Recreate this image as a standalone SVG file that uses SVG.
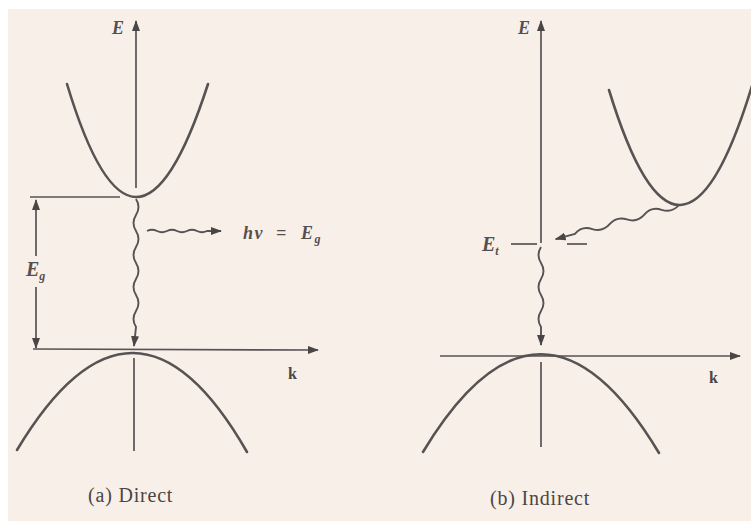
<svg xmlns="http://www.w3.org/2000/svg" width="751" height="521" viewBox="0 0 751 521">
<style>
.band{fill:none;stroke:#575353;stroke-width:2.6;stroke-linecap:round}
.ax{fill:none;stroke:#575353;stroke-width:1.7}
.wave{fill:none;stroke:#575353;stroke-width:1.9}
.lbl{font-family:"Liberation Serif",serif;font-style:italic;font-weight:bold;fill:#555050}
.cap{font-family:"Liberation Serif",serif;fill:#4a4646;font-size:20px}
.kl{font-family:"Liberation Serif",serif;font-weight:bold;fill:#4a4646;font-size:16px}
</style>
<defs>
<marker id="ah" markerWidth="11" markerHeight="8" refX="10" refY="4" orient="auto" markerUnits="userSpaceOnUse">
<path d="M0,0 L11,4 L0,8 z" fill="#4a4646"/>
</marker>
</defs>
<rect x="0" y="0" width="751" height="521" fill="#ffffff"/>
<rect x="8" y="9" width="743" height="512" fill="#f8efe9"/>

<g id="panel-a">
  <g id="a-axes">
    <line class="ax" x1="136" y1="188" x2="136" y2="21" marker-end="url(#ah)"/>
    <line class="ax" x1="134" y1="358" x2="134" y2="451"/>
    <line class="ax" x1="33" y1="349" x2="318" y2="350" marker-end="url(#ah)"/>
    <line class="ax" x1="30" y1="197" x2="120" y2="197"/>
    <text class="lbl" x="112" y="34" font-size="18">E</text>
    <text class="kl" x="288" y="379">k</text>
  </g>
  <g id="a-conduction">
    <path class="band" d="M67,84 Q135,310 208,84"/>
  </g>
  <g id="a-valence">
    <path class="band" d="M17,450 Q134,255 247,452"/>
  </g>
  <g id="a-gap">
    <line class="ax" x1="36" y1="256" x2="36" y2="200" marker-end="url(#ah)"/>
    <line class="ax" x1="36" y1="287" x2="36" y2="348" marker-end="url(#ah)"/>
    <text class="lbl" x="26" y="276" font-size="20">E<tspan font-size="12" dy="4">g</tspan></text>
  </g>
  <g id="a-photon">
    <text class="lbl" x="243" y="239" font-size="18" letter-spacing="1.5">hν<tspan x="276">=</tspan><tspan x="301">E</tspan><tspan font-size="12" dy="4">g</tspan></text>
  </g>
</g>

<g id="panel-b">
  <g id="b-axes">
    <line class="ax" x1="541" y1="243" x2="541" y2="21" marker-end="url(#ah)"/>
    <line class="ax" x1="541" y1="362" x2="541" y2="447"/>
    <line class="ax" x1="440" y1="356" x2="740" y2="356" marker-end="url(#ah)"/>
    <text class="lbl" x="518" y="34" font-size="18">E</text>
    <text class="kl" x="709" y="383">k</text>
  </g>
  <g id="b-conduction">
    <path class="band" d="M609,90 Q680,322 752,86"/>
  </g>
  <g id="b-trap">
    <line class="ax" x1="511" y1="244" x2="537" y2="244" stroke-width="2.4"/>
    <line class="ax" x1="567" y1="244" x2="587" y2="244" stroke-width="2.4"/>
    <text class="lbl" x="482" y="251" font-size="20">E<tspan font-size="12" dy="4">t</tspan></text>
  </g>
  <g id="b-valence">
    <path class="band" d="M423,452 Q541,256 659,453"/>
  </g>
</g>

<g id="connectors">
  <path class="wave" d="M136,199 q5,8 0,16 t0,16 t0,16 t0,16 t0,16 t0,16 t0,16 t0,16 L134,346" marker-end="url(#ah)"/>
  <path class="wave" d="M147,231 q5,-2.5 10,0 t10,0 t10,0 t10,0 t10,0 t10,0 L221,231" marker-end="url(#ah)"/>
  <g transform="translate(679,205) rotate(164.5)">
    <path class="wave" d="M0,0 q9,-6 18,0 t18,0 t18,0 t18,0 t18,0 t18,0 L128,0" marker-end="url(#ah)"/>
  </g>
  <path class="wave" d="M541,247 q-5,8 0,16 t0,16 t0,16 t0,16 t0,16 L541,345" marker-end="url(#ah)"/>
</g>

<text class="cap" x="88" y="502" letter-spacing="0.8">(a) Direct</text>
<text class="cap" x="490" y="505" letter-spacing="0.8">(b) Indirect</text>
</svg>
